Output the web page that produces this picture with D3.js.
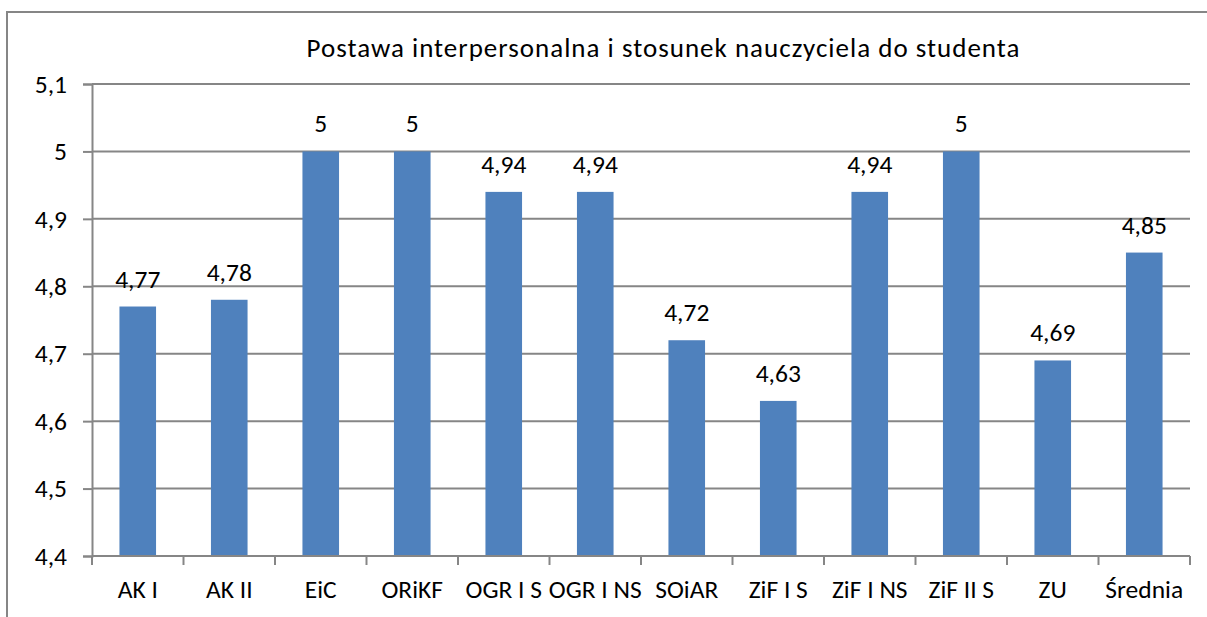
<!DOCTYPE html>
<html>
<head>
<meta charset="utf-8">
<script src="https://cdn.jsdelivr.net/npm/d3@7"></script>
<style>
  html, body { margin: 0; padding: 0; background: #fff; }
  svg { display: block; }
  text { font-family: Carlito, "Open Sans", sans-serif; fill: #000; }
</style>
</head>
<body>
<svg id="chart" width="1207" height="617"></svg>
<script>
const title = "Postawa interpersonalna i stosunek nauczyciela do studenta";
const categories = ["AK I", "AK II", "EiC", "ORiKF", "OGR I S", "OGR I NS", "SOiAR", "ZiF I S", "ZiF I NS", "ZiF II S", "ZU", "Średnia"];
const values = [4.77, 4.78, 5, 5, 4.94, 4.94, 4.72, 4.63, 4.94, 5, 4.69, 4.85];
const yTicks = [4.4, 4.5, 4.6, 4.7, 4.8, 4.9, 5, 5.1];

const svg = d3.select("#chart");
const margin = { left: 92, right: 1190, top: 84, bottom: 556 };
const gridColor = "#868686";
const fontSize = 25.5;
const fontFam = 'Carlito, "Open Sans", sans-serif';

svg.append("path")
  .attr("d", "M7,617 L7,12 L1207,12")
  .attr("fill", "none")
  .attr("stroke", gridColor)
  .attr("stroke-width", 2);

const x = d3.scaleBand().domain(categories).range([margin.left, margin.right]).paddingInner(0.6).paddingOuter(0.3);
const y = d3.scaleLinear().domain([4.4, 5.1]).range([margin.bottom, margin.top]);
const fmt = v => String(v).replace(".", ",");

svg.append("g").selectAll("line").data(yTicks.slice(1)).join("line")
  .attr("x1", margin.left).attr("x2", margin.right)
  .attr("y1", d => y(d)).attr("y2", d => y(d))
  .attr("stroke", gridColor).attr("stroke-width", 2);

svg.append("g").selectAll("rect").data(values).join("rect")
  .attr("x", (d, i) => x(categories[i]))
  .attr("width", x.bandwidth())
  .attr("y", d => y(d))
  .attr("height", d => y(4.4) - y(d))
  .attr("fill", "#4F81BD");

const yAxis = d3.axisLeft(y).tickValues(yTicks).tickFormat(fmt).tickSize(9).tickPadding(16);
const gy = svg.append("g").attr("transform", `translate(${margin.left},0)`).call(yAxis);
gy.select(".domain").attr("stroke", gridColor).attr("stroke-width", 2);
gy.selectAll(".tick line").attr("stroke", gridColor).attr("stroke-width", 2);
gy.selectAll(".tick text").style("font-size", fontSize + "px").style("font-family", fontFam).attr("fill", "#000");

const xAxis = d3.axisBottom(x).tickSize(0).tickPadding(24);
const gx = svg.append("g").attr("transform", `translate(0,${margin.bottom})`).call(xAxis);
gx.select(".domain").remove();
gx.selectAll(".tick text").style("font-size", fontSize + "px").style("font-family", fontFam).attr("fill", "#000");
const bounds = d3.range(categories.length + 1).map(i => margin.left + i * (margin.right - margin.left) / categories.length);
svg.append("line").attr("x1", margin.left).attr("x2", margin.right)
  .attr("y1", margin.bottom).attr("y2", margin.bottom)
  .attr("stroke", gridColor).attr("stroke-width", 2);
svg.append("g").selectAll("line").data(bounds).join("line")
  .attr("x1", d => d).attr("x2", d => d)
  .attr("y1", margin.bottom).attr("y2", margin.bottom + 9)
  .attr("stroke", gridColor).attr("stroke-width", 2);

svg.append("g").selectAll("text").data(values).join("text")
  .attr("x", (d, i) => x(categories[i]) + x.bandwidth() / 2)
  .attr("y", d => y(d) - 19)
  .attr("text-anchor", "middle")
  .style("font-size", fontSize + "px")
  .text(d => fmt(d));

svg.append("text")
  .attr("x", 663.5).attr("y", 57)
  .attr("text-anchor", "middle")
  .style("font-size", "27px")
  .style("letter-spacing", "1px")
  .text(title);
</script>
</body>
</html>
